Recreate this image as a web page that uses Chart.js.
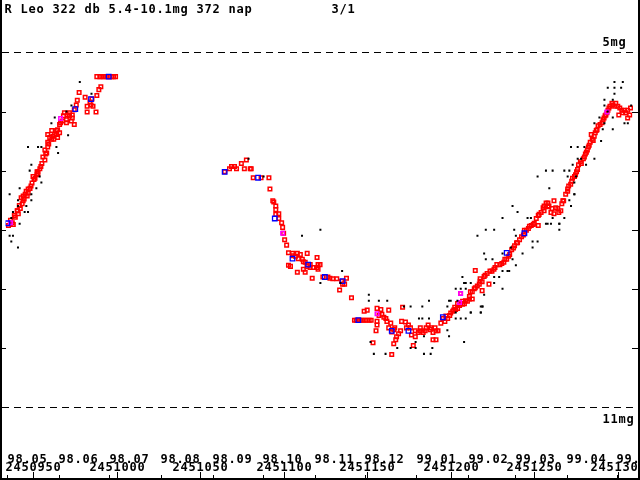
<!DOCTYPE html>
<html>
<head>
<meta charset="utf-8">
<script src="https://cdn.jsdelivr.net/npm/chart.js@4.4.1/dist/chart.umd.min.js"></script>
<style>
  html, body { margin: 0; padding: 0; background: #fff; }
  canvas { display: block; }
</style>
</head>
<body>
<canvas id="lightcurve" width="640" height="480"></canvas>
<script>
// R Leo light curve, JD - 2450000 against visual magnitude
const titleText = "R Leo 322 db 5.4-10.1mg 372 nap";
const pageText = "3/1";

// visual estimates (red open squares)
const redJd = [
  935.3, 936.5, 937.6, 939.4, 940.6, 941.2, 942.4, 943.5, 944.1, 944.7, 945.3, 946.5, 947.1, 948.2, 948.8,
  949.4, 950.0, 951.2, 952.4, 952.9, 954.1, 954.7, 955.3, 955.9, 957.1, 957.6, 958.8, 958.8, 959.4, 960.0,
  961.2, 961.8, 962.9, 964.1, 964.7, 966.5, 965.9, 967.6, 970.0, 970.6, 971.8, 968.8, 973.5, 974.7, 974.7,
  975.9, 976.5, 977.6, 981.2, 982.4, 984.7, 985.3, 987.7, 988.2, 989.4, 990.6, 988.2, 991.2, 994.1, 997.1, 999.4,
  961.2, 964.1, 964.7, 958.8, 962.4, 965.9, 968.2, 971.8, 973.5, 972.9, 970.0, 957.1, 958.2, 952.9, 952.4, 950.6,
  947.1, 945.9, 944.1, 942.9, 941.8, 940.6, 938.8, 936.5, 938.2, 982.4, 984.1, 985.9, 990.0, 992.4, 995.9, 998.2,
  1064.7, 1067.6, 1070.6, 1074.7, 1077.7, 1080.0, 1081.8, 1086.5, 1091.2, 1091.8, 1094.1, 1095.3, 1095.3, 1097.1,
  1098.8, 1099.4, 1100.0, 1100.6, 1101.8, 1102.9, 1102.9, 1104.1, 1105.3, 1108.2, 1108.2, 1108.8, 1111.8, 1112.9,
  1114.1, 1114.1, 1115.9, 1117.1, 1120.0, 1120.0, 1120.6, 1123.5, 1127.7, 1131.8, 1133.5, 1135.3, 1137.6, 1140.6,
  1068.8, 1071.8, 1076.5, 1080.6, 1093.5, 1095.3, 1097.1, 1105.3, 1107.1, 1110.0, 1111.2, 1112.9, 1115.9, 1117.6,
  1121.8, 1120.6, 1126.5, 1129.4, 1134.7, 1136.5, 1114.1, 1111.8,
  1142.4, 1145.3, 1148.2, 1151.2, 1148.2, 1150.0, 1153.5, 1155.3, 1155.9, 1155.9, 1155.9, 1157.1, 1158.2, 1160.0,
  1161.8, 1162.9, 1162.9, 1164.1, 1164.7, 1164.7, 1165.9, 1165.9, 1167.1, 1167.6, 1170.0, 1170.6, 1171.2, 1172.9,
  1175.9, 1176.5, 1177.6, 1178.8, 1178.8, 1181.8, 1181.8, 1184.7, 1186.5, 1187.7, 1189.4, 1189.4, 1191.2, 1191.2,
  1195.3, 1196.5, 1197.1, 1199.4, 1201.2, 1202.9, 1204.1, 1205.3, 1205.9, 1207.1, 1208.8, 1211.2, 1211.8, 1214.1,
  1217.1, 1217.6, 1218.8, 1222.9,
  1143.5, 1146.5, 1149.4, 1152.4, 1158.8, 1161.2, 1166.5, 1168.8, 1173.5, 1174.7, 1180.6, 1183.5, 1185.3, 1188.2,
  1190.6, 1192.4, 1194.1, 1198.2, 1201.8,
  1200.0, 1202.4, 1208.2, 1210.0, 1211.2, 1212.9, 1214.7, 1214.7, 1217.6, 1220.0, 1221.8, 1223.5, 1225.9, 1227.6,
  1229.4, 1231.8, 1233.5, 1234.7, 1236.5, 1237.6, 1239.4, 1241.2, 1242.4, 1244.1, 1246.5, 1248.2, 1250.0, 1251.2,
  1252.4, 1254.1, 1255.3, 1257.1, 1258.8, 1260.0, 1261.8, 1261.8, 1264.1, 1265.9, 1267.6, 1268.8, 1271.8,
  1204.1, 1207.1, 1212.9, 1215.9, 1218.8, 1220.6, 1224.7, 1226.5, 1230.6, 1232.4, 1235.3, 1238.2, 1240.0, 1243.5,
  1245.3, 1247.1, 1249.4, 1252.9, 1255.9, 1258.2, 1260.6, 1262.9, 1266.5, 1270.0,
  1252.4, 1255.9, 1258.2, 1264.7, 1267.1, 1270.0, 1270.6, 1272.9, 1274.7, 1275.9, 1276.5, 1277.6, 1279.4, 1280.6,
  1281.8, 1282.4, 1283.5, 1284.1, 1284.7, 1285.3, 1286.5, 1287.6, 1288.2, 1290.6, 1291.2, 1292.4, 1293.5, 1294.1,
  1295.3, 1296.5, 1298.2, 1300.0, 1300.6, 1302.4, 1304.1, 1305.9, 1305.9, 1307.1,
  1272.4, 1274.1, 1275.3, 1278.2, 1280.0, 1281.2, 1282.9, 1285.9, 1287.1, 1289.4, 1291.8, 1292.9, 1294.7, 1297.1,
  1298.8, 1301.2, 1302.9, 1304.7, 1307.6
];
const redMag = [
  7.93, 7.84, 7.88, 7.79, 7.68, 7.73, 7.64, 7.56, 7.51, 7.48, 7.40, 7.43, 7.38, 7.30, 7.26,
  7.21, 7.10, 7.13, 7.02, 7.05, 6.97, 6.93, 6.88, 6.77, 6.82, 6.72, 6.60, 6.52, 6.55, 6.44,
  6.47, 6.42, 6.39, 6.32, 6.31, 6.19, 6.22, 6.16, 6.14, 6.06, 6.07, 6.02, 6.06, 6.22, 5.97,
  5.89, 5.81, 5.68, 5.76, 6.01, 5.89, 5.79, 6.01, 5.73, 5.63, 5.58, 5.41, 5.41, 5.41, 5.41, 5.41,
  6.32, 6.39, 6.44, 6.39, 6.47, 6.36, 6.07, 6.02, 6.11, 6.16, 6.19, 6.65, 6.70, 7.02, 7.07, 7.15,
  7.31, 7.35, 7.43, 7.46, 7.59, 7.68, 7.76, 7.89, 7.91, 5.91, 5.84, 5.91, 5.41, 5.41, 5.41, 5.41,
  7.02, 6.97, 6.93, 6.88, 6.82, 6.97, 7.12, 7.12, 7.12, 7.31, 7.53, 7.66, 7.74, 7.81,
  7.88, 7.96, 8.06, 8.17, 8.26, 8.39, 8.60, 8.62, 8.44, 8.40, 8.72, 8.49, 8.54, 8.72,
  8.40, 8.59, 8.64, 8.82, 8.47, 8.64, 8.59, 8.80, 8.82, 8.83, 9.02, 8.92, 8.82, 9.15,
  6.93, 6.97, 6.97, 6.97, 7.51, 7.60, 7.73, 8.40, 8.45, 8.42, 8.50, 8.55, 8.59, 8.64,
  8.59, 8.67, 8.80, 8.83, 8.87, 8.92, 8.62, 8.67,
  9.53, 9.53, 9.53, 9.53, 9.38, 9.36, 9.91, 9.71, 9.33, 9.55, 9.61, 9.45, 9.35, 9.48,
  9.55, 9.36, 9.66, 9.58, 9.73, 10.11, 9.69, 9.93, 9.86, 9.81, 9.71, 9.55, 9.31, 9.56,
  9.66, 9.78, 9.96, 9.71, 9.81, 9.66, 9.71, 9.71, 9.61, 9.69, 9.74, 9.86, 9.71, 9.86,
  9.50, 9.55, 9.46, 9.45, 9.38, 9.35, 9.25, 9.28, 9.08, 9.21, 9.20, 9.17, 9.05, 9.00,
  8.92, 8.87, 9.03, 8.92,
  9.53, 9.53, 9.53, 9.53, 9.43, 9.50, 9.66, 9.76, 9.66, 9.61, 9.74, 9.74, 9.66, 9.66,
  9.66, 9.71, 9.58, 9.50, 9.36,
  9.41, 9.31, 9.25, 9.21, 9.13, 9.05, 8.98, 8.69, 8.83, 8.79, 8.74, 8.70, 8.67, 8.59,
  8.59, 8.55, 8.50, 8.45, 8.34, 8.31, 8.22, 8.17, 8.12, 8.01, 7.98, 7.93, 7.89, 7.81,
  7.76, 7.71, 7.63, 7.55, 7.60, 7.71, 7.73, 7.51, 7.64, 7.68, 7.51, 7.40, 7.23,
  9.33, 9.26, 9.17, 8.95, 8.88, 8.77, 8.70, 8.64, 8.57, 8.50, 8.42, 8.27, 8.22, 8.09,
  8.01, 7.94, 7.91, 7.74, 7.68, 7.61, 7.64, 7.63, 7.56, 7.35,
  7.93, 7.60, 7.55, 7.71, 7.51, 7.31, 7.26, 7.13, 7.07, 6.98, 6.90, 6.85, 6.80, 6.72,
  6.65, 6.60, 6.52, 6.39, 6.47, 6.49, 6.36, 6.31, 6.24, 6.19, 6.14, 6.07, 6.02, 5.98,
  5.91, 5.86, 5.91, 5.91, 6.06, 5.98, 5.98, 5.98, 6.11, 6.06,
  7.18, 7.10, 7.02, 6.88, 6.77, 6.69, 6.57, 6.42, 6.32, 6.22, 6.11, 6.06, 5.94, 5.89,
  5.86, 5.94, 6.02, 6.02, 5.94
];

// single estimates (black dots)
const blackJd = [
  978, 985, 973, 970, 963, 961, 971, 947, 953, 955, 964, 965, 949, 948, 954, 955, 942, 952, 936, 949,
  949, 941, 941, 946, 945, 947, 938, 937, 942, 936, 938, 937, 941,
  1079, 1088, 1122, 1111, 1135, 1122, 1134,
  1151, 1151, 1157, 1162, 1172, 1176, 1183, 1187, 1181, 1183, 1187, 1198, 1199, 1184, 1179, 1152, 1168,
  1176, 1179, 1189, 1154, 1161, 1184, 1188, 1208, 1203, 1206, 1209, 1212, 1218, 1219, 1199, 1204, 1208,
  1212, 1206, 1209,
  1259, 1274, 1237, 1240, 1231, 1246, 1248, 1257, 1260, 1265, 1265, 1221, 1226, 1238, 1216, 1239, 1249,
  1252, 1249, 1236, 1243, 1231, 1220, 1221, 1225, 1237, 1239, 1231, 1234, 1235, 1207, 1229, 1226, 1209,
  1226, 1231, 1220, 1203, 1218, 1219, 1212, 1218, 1203, 1200, 1198,
  1298, 1303, 1294, 1298, 1302, 1298, 1292, 1297, 1292, 1308, 1294, 1297, 1289, 1292, 1286, 1304, 1306,
  1297, 1291, 1290, 1272, 1276, 1280, 1286, 1276, 1278, 1281, 1273, 1257, 1261, 1268, 1271, 1275, 1270,
  1252, 1274, 1274, 1271, 1272, 1261, 1268, 1258, 1265
];
const blackMag = [
  5.5, 5.7, 5.9, 6.0, 6.1, 6.2, 6.4, 6.6, 6.6, 6.6, 6.6, 6.7, 6.9, 7.0, 7.1, 7.2, 7.3, 7.3, 7.4, 7.4,
  7.5, 7.5, 7.6, 7.6, 7.7, 7.7, 7.7, 7.8, 7.9, 8.1, 8.1, 8.2, 8.3,
  6.8, 7.1, 8.0, 8.1, 8.7, 8.9, 8.9,
  9.1, 9.2, 9.2, 9.2, 9.3, 9.3, 9.3, 9.2, 9.5, 9.5, 9.5, 9.7, 9.8, 9.8, 9.9, 9.9, 10.0,
  10.0, 10.0, 10.0, 10.1, 10.1, 10.1, 10.1, 9.9, 9.5, 9.5, 9.5, 9.4, 9.4, 9.3, 9.2, 9.2, 8.9,
  8.9, 9.0, 9.0,
  7.3, 7.4, 7.6, 7.7, 7.8, 7.8, 7.8, 7.9, 7.9, 7.9, 8.0, 8.0, 8.0, 8.0, 8.1, 8.1, 8.2,
  8.2, 8.3, 8.3, 8.4, 8.4, 8.4, 8.5, 8.5, 8.5, 8.6, 8.7, 8.7, 8.7, 8.8, 8.8, 8.8, 8.9,
  8.9, 9.0, 9.1, 9.0, 9.3, 9.3, 9.4, 9.4, 9.4, 9.2, 9.3,
  5.5, 5.5, 5.6, 5.6, 5.6, 5.7, 5.8, 5.8, 5.9, 5.9, 6.0, 6.1, 6.1, 6.2, 6.2, 6.2, 6.2,
  6.3, 6.3, 6.5, 6.6, 6.6, 6.6, 6.8, 6.8, 6.8, 6.9, 6.9, 7.0, 7.0, 7.0, 7.0, 7.1, 7.1,
  7.1, 7.2, 7.4, 7.5, 7.6, 7.8, 7.8, 7.9, 7.9
];

// blue open squares
const blueJd = [934.7, 984.7, 975.3, 995.3, 1064.7, 1084.7, 1094.7, 1105.3, 1114.7, 1124.7, 1135.3,
  1144.7, 1164.7, 1174.7, 1195.3, 1244.1, 1233.5];
const blueMag = [7.89, 5.79, 5.96, 5.41, 7.02, 7.12, 7.81, 8.49, 8.59, 8.80, 8.87,
  9.53, 9.71, 9.71, 9.48, 8.06, 8.39];

// magenta squares
const magentaJd = [966.5, 936.5, 1293.5, 1205.3, 1155.9, 1205.9, 1099.4];
const magentaMag = [6.12, 7.88, 6.01, 9.23, 9.42, 9.08, 8.06];

// axis marks
const monthStarts = [934.5, 965.5, 995.5, 1026.5, 1057.5, 1087.5, 1118.5, 1148.5, 1179.5, 1210.5, 1238.5, 1269.5, 1299.5];
const monthLabels = ["98.05", "98.06", "98.07", "98.08", "98.09", "98.10", "98.11", "98.12", "99.01", "99.02", "99.03", "99.04", "99.05"];
const jdTicks = [950, 1000, 1050, 1100, 1150, 1200, 1250, 1300];
const magTicks = [6, 7, 8, 9, 10];
const magLimits = [5, 11];

function toPoints(xs, ys) {
  return xs.map(function(x, i) { return { x: x, y: ys[i] }; });
}

// text in 8 px character cells, like the original bitmap font;
// a cell that does not fit inside the frame is left out
function drawCells(ctx, text, left, baseline, limit) {
  for (let i = 0; i < text.length; i++) {
    const cell = left + i * 8;
    if (limit && cell + 8 > limit) break;
    ctx.fillText(text[i], cell + 4, baseline);
  }
}

const framePlugin = {
  id: "frame",
  afterDraw: function(chart) {
    const ctx = chart.ctx;
    const xs = chart.scales.x;
    const ys = chart.scales.y;
    const w = chart.width;
    const h = chart.height;

    ctx.save();
    ctx.fillStyle = "#000";

    // border left, right, bottom
    ctx.fillRect(0, 0, 2, h);
    ctx.fillRect(w - 2, 0, 2, h);
    ctx.fillRect(0, h - 2, w, 2);

    // magnitude ticks on both sides
    magTicks.forEach(function(m) {
      const y = Math.round(ys.getPixelForValue(m));
      ctx.fillRect(0, y, 6, 1);
      ctx.fillRect(w - 8, y, 8, 1);
    });

    // dashed lines at 5 and 11 mag
    ctx.strokeStyle = "#000";
    ctx.lineWidth = 1;
    ctx.setLineDash([7, 5]);
    ctx.lineDashOffset = -2;
    magLimits.forEach(function(m) {
      const y = Math.round(ys.getPixelForValue(m)) + 0.5;
      ctx.beginPath();
      ctx.moveTo(0, y);
      ctx.lineTo(w, y);
      ctx.stroke();
    });
    ctx.setLineDash([]);

    // bottom ticks
    monthStarts.forEach(function(d) {
      const x = Math.round(xs.getPixelForValue(d));
      ctx.fillRect(x, h - 5, 1, 3);
    });
    jdTicks.forEach(function(d) {
      const x = Math.round(xs.getPixelForValue(d));
      ctx.fillRect(x, h - 8, 1, 6);
    });

    ctx.font = "bold 12px 'DejaVu Sans Mono'";
    ctx.textAlign = "center";
    ctx.textBaseline = "alphabetic";

    drawCells(ctx, titleText, 4, 13);
    drawCells(ctx, pageText, 331, 13);
    drawCells(ctx, "5mg", 602, 46);
    drawCells(ctx, "11mg", 602, 423);

    monthStarts.forEach(function(d, i) {
      const x = Math.floor(xs.getPixelForValue(d));
      drawCells(ctx, monthLabels[i], x, 463, w);
    });
    jdTicks.forEach(function(d) {
      const label = String(2450000 + d);
      const x = Math.round(xs.getPixelForValue(d)) - label.length * 4;
      drawCells(ctx, label, x, 471, w);
    });

    ctx.restore();
  }
};

const ctx = document.getElementById("lightcurve").getContext("2d");
new Chart(ctx, {
  type: "scatter",
  data: {
    datasets: [
      {
        label: "single",
        data: toPoints(blackJd, blackMag),
        pointStyle: "rect",
        pointRadius: 1.42,
        pointBorderWidth: 0,
        backgroundColor: "#000000",
        borderColor: "#000000"
      },
      {
        label: "blue",
        data: toPoints(blueJd, blueMag),
        pointStyle: "rect",
        pointRadius: 3.2,
        pointBorderWidth: 1.3,
        backgroundColor: "rgba(0,0,0,0)",
        borderColor: "#0000ff"
      },
      {
        label: "magenta",
        data: toPoints(magentaJd, magentaMag),
        pointStyle: "rect",
        pointRadius: 2.5,
        pointBorderWidth: 1.5,
        backgroundColor: "rgba(0,0,0,0)",
        borderColor: "#ff00ff"
      },
      {
        label: "visual",
        data: toPoints(redJd, redMag),
        pointStyle: "rect",
        pointRadius: 2.5,
        pointBorderWidth: 1.5,
        backgroundColor: "rgba(0,0,0,0)",
        borderColor: "#ff0000"
      }
    ]
  },
  options: {
    responsive: false,
    devicePixelRatio: 1,
    animation: false,
    events: [],
    layout: { padding: 0 },
    plugins: {
      legend: { display: false },
      tooltip: { enabled: false }
    },
    scales: {
      x: { type: "linear", display: false, min: 950 - 28 / 1.7, max: 950 - 28 / 1.7 + 640 / 1.7 },
      y: { type: "linear", display: false, reverse: true, min: 5 - 48 / 60.5, max: 5 + 432 / 60.5 }
    }
  },
  plugins: [framePlugin]
});
</script>
</body>
</html>
